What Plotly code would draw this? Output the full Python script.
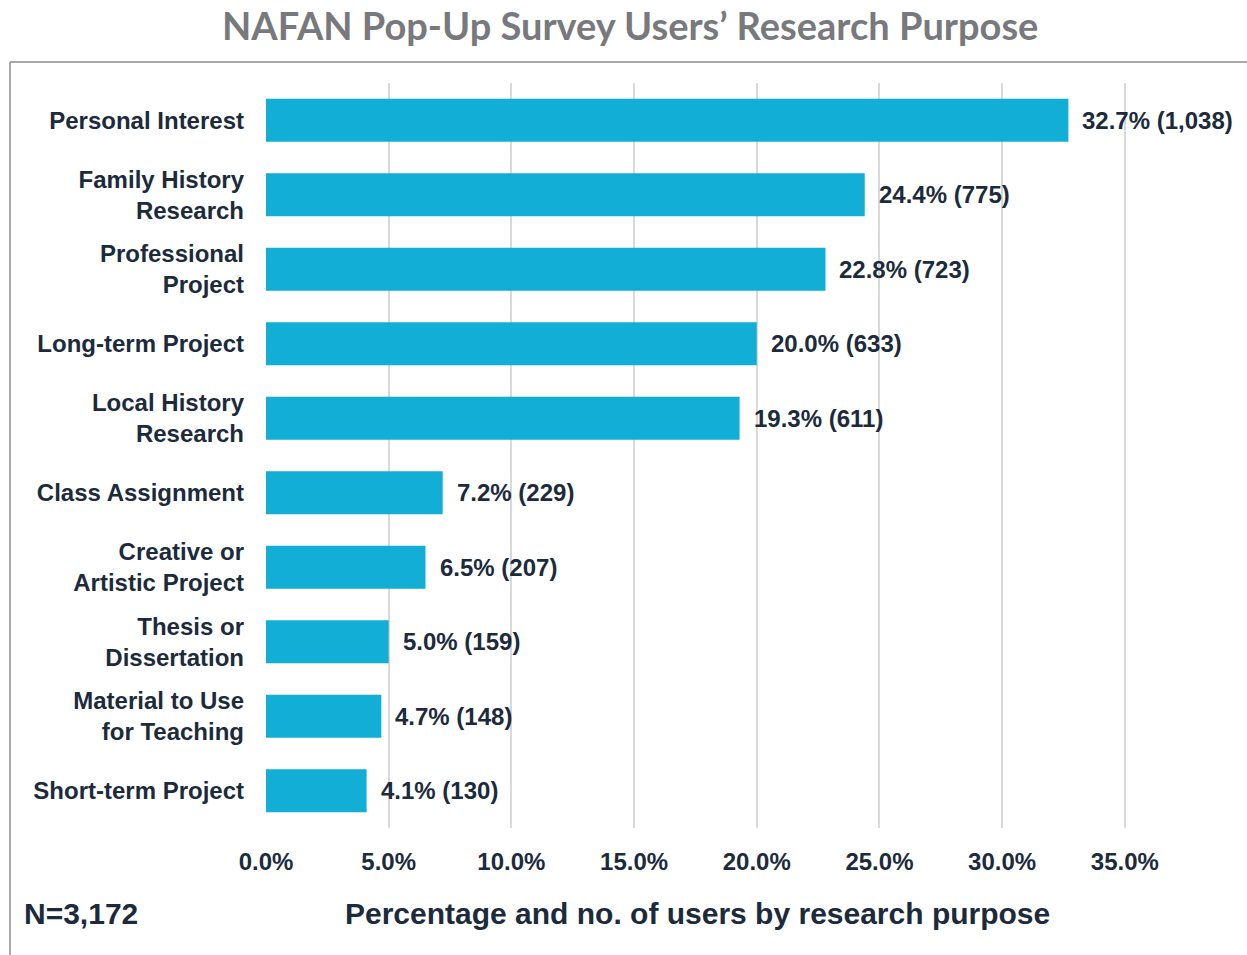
import plotly.graph_objects as go

categories = ["Personal Interest", "Family History<br>Research", "Professional<br>Project",
              "Long-term Project", "Local History<br>Research", "Class Assignment",
              "Creative or<br>Artistic Project", "Thesis or<br>Dissertation",
              "Material to Use<br>for Teaching", "Short-term Project"]
percents = [32.7, 24.4, 22.8, 20.0, 19.3, 7.2, 6.5, 5.0, 4.7, 4.1]
counts = ["1,038", "775", "723", "633", "611", "229", "207", "159", "148", "130"]
tick_vals = [0, 5, 10, 15, 20, 25, 30, 35]
tick_text = ["0.0%", "5.0%", "10.0%", "15.0%", "20.0%", "25.0%", "30.0%", "35.0%"]

W, H = 1247, 955
# plot area in page pixels: x 266..1223, y 83..828
L, R, T, B = 266, 1247 - 1223, 83, 955 - 828
pw, ph = W - L - R, H - T - B
dark = "#1c2b3c"
font = "Liberation Sans, Arial, Helvetica, sans-serif"

fig = go.Figure()
fig.add_trace(go.Bar(
    x=percents, y=categories, orientation="h",
    marker=dict(color="#12AED6", line=dict(width=0)),
    width=0.58, cliponaxis=False, hoverinfo="skip",
))

annotations = []
for p, c, cat in zip(percents, counts, categories):
    annotations.append(dict(x=p, y=cat, xref="x", yref="y", text=f"{p:.1f}% ({c})",
                            showarrow=False, xanchor="left", yanchor="middle", xshift=12,
                            font=dict(family=font, size=24, color=dark, weight="bold")))

def px_x(px):
    return (px - L) / pw

def px_y(py):
    return (H - B - py) / ph

annotations.append(dict(x=px_x(697), y=px_y(913), xref="paper", yref="paper",
                        text="Percentage and no. of users by research purpose", showarrow=False,
                        xanchor="center", yanchor="middle",
                        font=dict(family=font, size=30, color=dark, weight="bold")))
annotations.append(dict(x=px_x(22), y=px_y(913), xref="paper", yref="paper",
                        text="N=3,172", showarrow=False, xanchor="left", yanchor="middle",
                        font=dict(family=font, size=30, color=dark, weight="bold")))
annotations.append(dict(x=px_x(630), y=px_y(25), xref="paper", yref="paper",
                        text="NAFAN Pop-Up Survey Users’ Research Purpose", showarrow=False,
                        xanchor="center", yanchor="middle",
                        font=dict(family="Lato, sans-serif", size=38, color="#77797c", weight="bold")))

shapes = [
    dict(type="line", xref="paper", yref="paper", x0=px_x(10), x1=px_x(1260),
         y0=px_y(62), y1=px_y(62), line=dict(color="#8a8d90", width=1.5)),
    dict(type="line", xref="paper", yref="paper", x0=px_x(10), x1=px_x(10),
         y0=px_y(62), y1=px_y(970), line=dict(color="#8a8d90", width=1.5)),
]

fig.update_layout(
    width=W, height=H,
    margin=dict(l=L, r=R, t=T, b=B, autoexpand=False),
    paper_bgcolor="white", plot_bgcolor="white",
    showlegend=False,
    annotations=annotations, shapes=shapes,
    xaxis=dict(range=[0, 39], tickvals=tick_vals, ticktext=tick_text,
               showgrid=True, gridcolor="#d9d9d9", gridwidth=2, zeroline=False,
               showline=False, ticks="", ticklabelstandoff=17,
               tickfont=dict(family=font, size=24, color=dark, weight="bold"),
               fixedrange=True),
    yaxis=dict(autorange="reversed", showgrid=False, zeroline=False, showline=False,
               ticks="", ticklabelstandoff=21,
               tickfont=dict(family=font, size=24, color=dark, weight="bold"),
               fixedrange=True),
)

fig.write_html("out.html", config={"displayModeBar": False},
               post_script="document.body.style.margin='0';document.body.style.overflow='hidden';")
